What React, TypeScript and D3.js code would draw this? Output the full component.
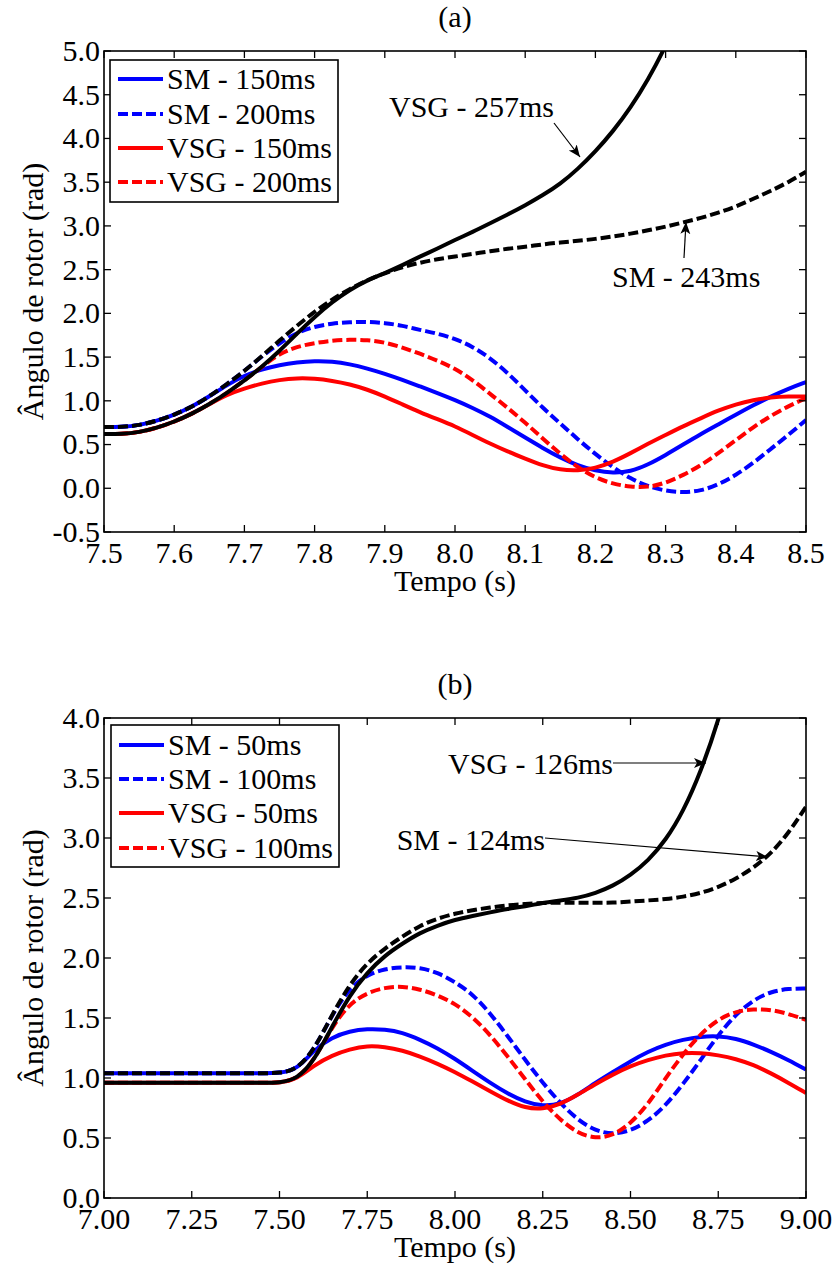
import React from "react";
import * as d3 from "d3";

// ---------- Panel (a) data ----------
const timeA = [7.500, 7.525, 7.550, 7.575, 7.600, 7.625, 7.650, 7.675, 7.700, 7.725, 7.750, 7.775, 7.800, 7.825, 7.850, 7.875, 7.900, 7.925, 7.950, 7.975, 8.000, 8.025, 8.050, 8.075, 8.100, 8.125, 8.150, 8.175, 8.200, 8.225, 8.250, 8.275, 8.300, 8.325, 8.350, 8.375, 8.400, 8.425, 8.450, 8.475, 8.500];
const smA150 = [0.70, 0.70, 0.72, 0.77, 0.84, 0.93, 1.05, 1.18, 1.29, 1.36, 1.41, 1.44, 1.455, 1.45, 1.42, 1.37, 1.31, 1.24, 1.165, 1.09, 1.01, 0.92, 0.82, 0.70, 0.58, 0.46, 0.35, 0.26, 0.20, 0.175, 0.19, 0.27, 0.38, 0.50, 0.62, 0.73, 0.84, 0.95, 1.05, 1.14, 1.215];
const smA200 = [0.70, 0.70, 0.72, 0.77, 0.84, 0.93, 1.05, 1.19, 1.34, 1.51, 1.66, 1.78, 1.85, 1.885, 1.90, 1.905, 1.89, 1.86, 1.81, 1.77, 1.71, 1.62, 1.49, 1.32, 1.12, 0.92, 0.74, 0.56, 0.39, 0.24, 0.11, 0.02, -0.03, -0.05, -0.03, 0.04, 0.15, 0.29, 0.45, 0.61, 0.78];
const smA243 = [0.70, 0.70, 0.72, 0.77, 0.84, 0.93, 1.05, 1.19, 1.34, 1.51, 1.69, 1.86, 2.02, 2.16, 2.28, 2.38, 2.46, 2.53, 2.58, 2.62, 2.65, 2.68, 2.71, 2.74, 2.76, 2.79, 2.81, 2.83, 2.85, 2.88, 2.91, 2.95, 2.99, 3.04, 3.09, 3.15, 3.22, 3.31, 3.40, 3.50, 3.62];
const vsgA150 = [0.62, 0.62, 0.64, 0.69, 0.76, 0.85, 0.96, 1.07, 1.14, 1.20, 1.24, 1.26, 1.255, 1.23, 1.19, 1.13, 1.05, 0.96, 0.87, 0.79, 0.71, 0.61, 0.51, 0.42, 0.34, 0.26, 0.21, 0.20, 0.23, 0.30, 0.40, 0.51, 0.61, 0.71, 0.80, 0.89, 0.96, 1.01, 1.04, 1.05, 1.05];
const vsgA200 = [0.62, 0.62, 0.64, 0.69, 0.76, 0.85, 0.96, 1.09, 1.23, 1.39, 1.54, 1.62, 1.66, 1.69, 1.70, 1.695, 1.67, 1.61, 1.54, 1.46, 1.37, 1.24, 1.08, 0.92, 0.75, 0.57, 0.39, 0.24, 0.12, 0.05, 0.015, 0.01, 0.06, 0.15, 0.26, 0.40, 0.55, 0.70, 0.83, 0.94, 1.03];
const vsgA257 = [0.62, 0.62, 0.64, 0.69, 0.76, 0.85, 0.96, 1.09, 1.23, 1.39, 1.57, 1.77, 1.96, 2.13, 2.27, 2.38, 2.46, 2.55, 2.65, 2.74, 2.84, 2.93, 3.03, 3.13, 3.235, 3.35, 3.48, 3.65, 3.85, 4.08, 4.35, 4.67, 5.05, 5.50];
const xTicksA = ["7.5", "7.6", "7.7", "7.8", "7.9", "8.0", "8.1", "8.2", "8.3", "8.4", "8.5"];
const yTicksA = ["-0.5", "0.0", "0.5", "1.0", "1.5", "2.0", "2.5", "3.0", "3.5", "4.0", "4.5", "5.0"];
const legendA = ["SM - 150ms", "SM - 200ms", "VSG - 150ms", "VSG - 200ms"];

// ---------- Panel (b) data ----------
const timeB = [7.00, 7.05, 7.10, 7.15, 7.20, 7.25, 7.30, 7.35, 7.40, 7.45, 7.50, 7.55, 7.60, 7.65, 7.70, 7.75, 7.80, 7.85, 7.90, 7.95, 8.00, 8.05, 8.10, 8.15, 8.20, 8.25, 8.30, 8.35, 8.40, 8.45, 8.50, 8.55, 8.60, 8.65, 8.70, 8.75, 8.80, 8.85, 8.90, 8.95, 9.00];
const smB50 = [1.04, 1.04, 1.04, 1.04, 1.04, 1.04, 1.04, 1.04, 1.04, 1.04, 1.04, 1.07, 1.24, 1.34, 1.39, 1.41, 1.405, 1.38, 1.32, 1.25, 1.16, 1.06, 0.96, 0.87, 0.80, 0.765, 0.78, 0.86, 0.96, 1.05, 1.14, 1.22, 1.28, 1.32, 1.345, 1.35, 1.33, 1.28, 1.22, 1.15, 1.07];
const smB100 = [1.04, 1.04, 1.04, 1.04, 1.04, 1.04, 1.04, 1.04, 1.04, 1.04, 1.04, 1.07, 1.24, 1.53, 1.75, 1.86, 1.91, 1.925, 1.92, 1.88, 1.80, 1.70, 1.54, 1.35, 1.15, 0.96, 0.79, 0.65, 0.56, 0.53, 0.56, 0.64, 0.77, 0.95, 1.15, 1.36, 1.53, 1.65, 1.72, 1.745, 1.745];
const smB124 = [1.04, 1.04, 1.04, 1.04, 1.04, 1.04, 1.04, 1.04, 1.04, 1.04, 1.04, 1.07, 1.24, 1.53, 1.78, 1.96, 2.08, 2.18, 2.27, 2.33, 2.37, 2.40, 2.42, 2.44, 2.45, 2.46, 2.46, 2.46, 2.46, 2.46, 2.47, 2.48, 2.49, 2.51, 2.54, 2.59, 2.66, 2.75, 2.87, 3.04, 3.26];
const vsgB50 = [0.96, 0.96, 0.96, 0.96, 0.96, 0.96, 0.96, 0.96, 0.96, 0.96, 0.96, 0.99, 1.11, 1.19, 1.24, 1.27, 1.26, 1.23, 1.18, 1.12, 1.05, 0.97, 0.89, 0.81, 0.75, 0.74, 0.78, 0.86, 0.95, 1.03, 1.10, 1.15, 1.19, 1.21, 1.21, 1.19, 1.16, 1.11, 1.04, 0.96, 0.875];
const vsgB100 = [0.96, 0.96, 0.96, 0.96, 0.96, 0.96, 0.96, 0.96, 0.96, 0.96, 0.96, 0.99, 1.15, 1.43, 1.62, 1.71, 1.755, 1.765, 1.74, 1.69, 1.62, 1.51, 1.36, 1.18, 0.99, 0.80, 0.65, 0.54, 0.495, 0.52, 0.62, 0.78, 1.00, 1.20, 1.37, 1.49, 1.555, 1.575, 1.57, 1.535, 1.485];
const vsgB126 = [0.96, 0.96, 0.96, 0.96, 0.96, 0.96, 0.96, 0.96, 0.96, 0.96, 0.96, 0.99, 1.15, 1.43, 1.69, 1.88, 2.02, 2.12, 2.21, 2.27, 2.32, 2.35, 2.38, 2.41, 2.43, 2.46, 2.48, 2.50, 2.54, 2.60, 2.69, 2.81, 2.98, 3.22, 3.55, 3.97, 4.50];
const xTicksB = ["7.00", "7.25", "7.50", "7.75", "8.00", "8.25", "8.50", "8.75", "9.00"];
const yTicksB = ["0.0", "0.5", "1.0", "1.5", "2.0", "2.5", "3.0", "3.5", "4.0"];
const legendB = ["SM - 50ms", "SM - 100ms", "VSG - 50ms", "VSG - 100ms"];

const FONT = '"Liberation Serif", "Times New Roman", Times, serif';
const FS = 30;
const BLUE = "#0000ff";
const RED = "#ff0000";
const DASH = "10,4";
const LW = 4;

type Series = { values: number[]; color: string; dashed: boolean };
type Annot = { text: string; tx: number; ty: number; anchor: string; x1: number; y1: number; x2: number; y2: number };

type PanelCfg = {
  id: string;
  title: string;
  top: number;
  bottom: number;
  xDomain: [number, number];
  yDomain: [number, number];
  time: number[];
  xTicks: string[];
  yTicks: string[];
  series: Series[];
  legend: string[];
  legendBox: { x: number; y: number; w: number; h: number; rows: number[] };
  annots: Annot[];
  titleY: number;
};

const LEFT = 104;
const RIGHT = 806;

function Panel({ cfg }: { cfg: PanelCfg }) {
  const x = d3.scaleLinear().domain(cfg.xDomain).range([LEFT, RIGHT]);
  const y = d3.scaleLinear().domain(cfg.yDomain).range([cfg.bottom, cfg.top]);
  const line = d3
    .line<number>()
    .x((_, i) => x(cfg.time[i]))
    .y((d) => y(d))
    .curve(d3.curveBasis);
  const clipId = "clip-" + cfg.id;
  const tickLen = 7;
  const legendColors = [BLUE, BLUE, RED, RED];
  const legendDash = [false, true, false, true];
  const cx = (LEFT + RIGHT) / 2;
  return (
    <g>
      <defs>
        <clipPath id={clipId}>
          <rect x={LEFT} y={cfg.top} width={RIGHT - LEFT} height={cfg.bottom - cfg.top} />
        </clipPath>
      </defs>
      <text x={cx} y={cfg.titleY} textAnchor="middle" fontFamily={FONT} fontSize={FS}>
        {cfg.title}
      </text>
      <g clipPath={`url(#${clipId})`}>
        {cfg.series.map((s, i) => (
          <path
            key={i}
            d={line(s.values) || ""}
            fill="none"
            stroke={s.color}
            strokeWidth={LW}
            strokeDasharray={s.dashed ? DASH : undefined}
            strokeLinejoin="round"
          />
        ))}
      </g>
      {cfg.xTicks.map((t) => {
        const px = x(+t);
        return (
          <g key={"x" + t}>
            <line x1={px} x2={px} y1={cfg.bottom} y2={cfg.bottom - tickLen} stroke="#000" strokeWidth={1.3} />
            <line x1={px} x2={px} y1={cfg.top} y2={cfg.top + tickLen} stroke="#000" strokeWidth={1.3} />
            <text x={px} y={cfg.bottom + 31} textAnchor="middle" fontFamily={FONT} fontSize={FS}>
              {t}
            </text>
          </g>
        );
      })}
      {cfg.yTicks.map((t) => {
        const py = y(+t);
        return (
          <g key={"y" + t}>
            <line x1={LEFT} x2={LEFT + tickLen} y1={py} y2={py} stroke="#000" strokeWidth={1.3} />
            <line x1={RIGHT} x2={RIGHT - tickLen} y1={py} y2={py} stroke="#000" strokeWidth={1.3} />
            <text x={100} y={py} dy="0.33em" textAnchor="end" fontFamily={FONT} fontSize={FS}>
              {t}
            </text>
          </g>
        );
      })}
      <rect x={LEFT} y={cfg.top} width={RIGHT - LEFT} height={cfg.bottom - cfg.top} fill="none" stroke="#000" strokeWidth={1.6} />
      <text x={cx} y={cfg.bottom + 59} textAnchor="middle" fontFamily={FONT} fontSize={FS}>
        Tempo (s)
      </text>
      <text
        transform={`translate(43,${(cfg.top + cfg.bottom) / 2}) rotate(-90)`}
        textAnchor="middle"
        fontFamily={FONT}
        fontSize={FS}
      >
        Ângulo de rotor (rad)
      </text>
      <rect
        x={cfg.legendBox.x}
        y={cfg.legendBox.y}
        width={cfg.legendBox.w}
        height={cfg.legendBox.h}
        fill="#fff"
        stroke="#000"
        strokeWidth={1.6}
      />
      {cfg.legend.map((name, i) => {
        const ry = cfg.legendBox.rows[i];
        return (
          <g key={name}>
            <line
              x1={cfg.legendBox.x + 8}
              x2={cfg.legendBox.x + 53}
              y1={ry}
              y2={ry}
              stroke={legendColors[i]}
              strokeWidth={LW}
              strokeDasharray={legendDash[i] ? DASH : undefined}
            />
            <text x={cfg.legendBox.x + 57} y={ry} dy="0.33em" fontFamily={FONT} fontSize={FS}>
              {name}
            </text>
          </g>
        );
      })}
      {cfg.annots.map((a, i) => (
        <g key={"a" + i}>
          <text x={a.tx} y={a.ty} textAnchor={a.anchor} fontFamily={FONT} fontSize={FS}>
            {a.text}
          </text>
          <line x1={a.x1} y1={a.y1} x2={a.x2} y2={a.y2} stroke="#000" strokeWidth={1.2} markerEnd="url(#arrowhead)" />
        </g>
      ))}
    </g>
  );
}

export default function App() {
  const panelA: PanelCfg = {
    id: "a",
    title: "(a)",
    titleY: 27,
    top: 51,
    bottom: 532,
    xDomain: [7.5, 8.5],
    yDomain: [-0.5, 5.0],
    time: timeA,
    xTicks: xTicksA,
    yTicks: yTicksA,
    series: [
      { values: smA150, color: BLUE, dashed: false },
      { values: smA200, color: BLUE, dashed: true },
      { values: vsgA150, color: RED, dashed: false },
      { values: vsgA200, color: RED, dashed: true },
      { values: vsgA257, color: "#000", dashed: false },
      { values: smA243, color: "#000", dashed: true },
    ],
    legend: legendA,
    legendBox: { x: 110, y: 60, w: 228, h: 142, rows: [79, 114, 148, 182] },
    annots: [
      { text: "VSG - 257ms", tx: 554, ty: 117, anchor: "end", x1: 554, y1: 123, x2: 580, y2: 157 },
      { text: "SM - 243ms", tx: 612, ty: 287, anchor: "start", x1: 684, y1: 258, x2: 686, y2: 222 },
    ],
  };
  const panelB: PanelCfg = {
    id: "b",
    title: "(b)",
    titleY: 694,
    top: 718,
    bottom: 1198,
    xDomain: [7.0, 9.0],
    yDomain: [0, 4.0],
    time: timeB,
    xTicks: xTicksB,
    yTicks: yTicksB,
    series: [
      { values: smB50, color: BLUE, dashed: false },
      { values: smB100, color: BLUE, dashed: true },
      { values: vsgB50, color: RED, dashed: false },
      { values: vsgB100, color: RED, dashed: true },
      { values: vsgB126, color: "#000", dashed: false },
      { values: smB124, color: "#000", dashed: true },
    ],
    legend: legendB,
    legendBox: { x: 111, y: 725, w: 228, h: 142, rows: [745, 779, 813, 848] },
    annots: [
      { text: "VSG - 126ms", tx: 613, ty: 774, anchor: "end", x1: 613, y1: 763, x2: 706, y2: 763 },
      { text: "SM - 124ms", tx: 545, ty: 850, anchor: "end", x1: 545, y1: 838, x2: 768, y2: 857 },
    ],
  };
  return (
    <svg
      width={838}
      height={1271}
      viewBox="0 0 838 1271"
      style={{ position: "absolute", left: 0, top: 0, background: "#fff" }}
    >
      <defs>
        <marker
          id="arrowhead"
          markerUnits="userSpaceOnUse"
          markerWidth={14}
          markerHeight={12}
          refX={12}
          refY={5}
          orient="auto"
        >
          <path d="M0,0 L12,5 L0,10 L3,5 Z" fill="#000" />
        </marker>
      </defs>
      <rect x={0} y={0} width={838} height={1271} fill="#fff" />
      <Panel cfg={panelA} />
      <Panel cfg={panelB} />
    </svg>
  );
}
